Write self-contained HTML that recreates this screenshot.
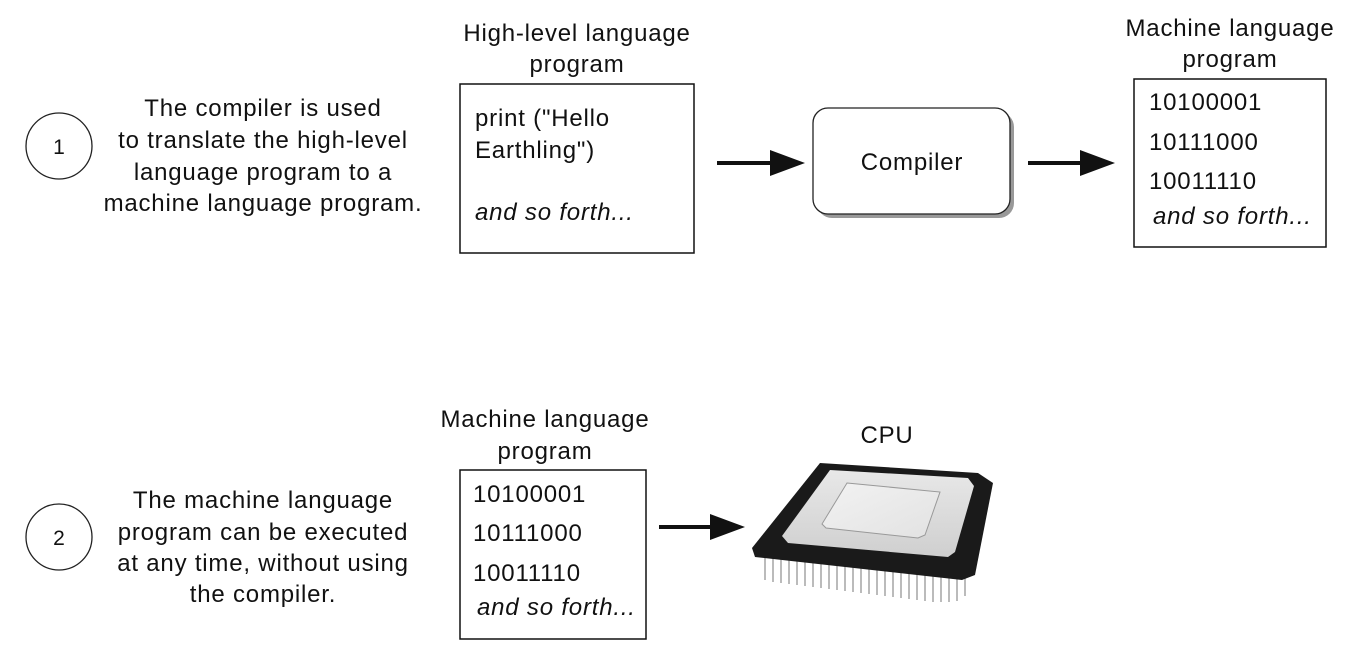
<!DOCTYPE html>
<html><head><meta charset="utf-8"><style>
html,body{margin:0;padding:0;background:#fff}
svg text{font-family:"Liberation Sans",sans-serif;font-size:24px;letter-spacing:0.8px;fill:#111}
</style></head><body>
<svg width="1350" height="656" viewBox="0 0 1350 656" xmlns="http://www.w3.org/2000/svg">
<defs>
<linearGradient id="g1" x1="0" y1="0" x2="0" y2="1"><stop offset="0" stop-color="#e8e8e8"/><stop offset="1" stop-color="#cfcfcf"/></linearGradient>
<linearGradient id="g2" x1="0" y1="0" x2="1" y2="1"><stop offset="0" stop-color="#f2f2f2"/><stop offset="1" stop-color="#e2e2e2"/></linearGradient>
</defs>
<g fill="none" stroke="#222" stroke-width="1.3">
<circle cx="59" cy="146" r="33"/><circle cx="59" cy="537" r="33"/>
</g>
<text x="59" y="154" text-anchor="middle" style="font-size:21px;letter-spacing:0">1</text>
<text x="59" y="545" text-anchor="middle" style="font-size:21px;letter-spacing:0">2</text>
<rect x="817" y="112" width="197" height="106" rx="15" fill="#999"/>
<rect x="813" y="108" width="197" height="106" rx="15" fill="#fff" stroke="#222" stroke-width="1.3"/>
<g text-anchor="middle">
<text x="263" y="116">The compiler is used</text>
<text x="263" y="148">to translate the high-level</text>
<text x="263" y="180">language program to a</text>
<text x="263" y="211">machine language program.</text>
<text x="263" y="508">The machine language</text>
<text x="263" y="540">program can be executed</text>
<text x="263" y="571">at any time, without using</text>
<text x="263" y="602">the compiler.</text>
<text x="577" y="41">High-level language</text>
<text x="577" y="72">program</text>
<text x="1230" y="36">Machine language</text>
<text x="1230" y="67">program</text>
<text x="545" y="427">Machine language</text>
<text x="545" y="459">program</text>
<text x="887" y="443">CPU</text>
<text x="912" y="170">Compiler</text>
</g>
<g fill="none" stroke="#111" stroke-width="1.5">
<rect x="460" y="84" width="234" height="169"/>
<rect x="1134" y="79" width="192" height="168"/>
<rect x="460" y="470" width="186" height="169"/>
</g>
<text x="475" y="126">print ("Hello</text>
<text x="475" y="158">Earthling")</text>
<text x="475" y="220" font-style="italic">and so forth...</text>
<text x="1149" y="110">10100001</text>
<text x="1149" y="150">10111000</text>
<text x="1149" y="189">10011110</text>
<text x="1153" y="224" font-style="italic">and so forth...</text>
<text x="473" y="502">10100001</text>
<text x="473" y="541">10111000</text>
<text x="473" y="581">10011110</text>
<text x="477" y="615" font-style="italic">and so forth...</text>
<g fill="#111" stroke="#111" stroke-width="4">
<line x1="717" y1="163" x2="772" y2="163"/><polygon points="770,150 805,163 770,176" stroke="none"/>
<line x1="1028" y1="163" x2="1082" y2="163"/><polygon points="1080,150 1115,163 1080,176" stroke="none"/>
<line x1="659" y1="527" x2="712" y2="527"/><polygon points="710,514 745,527 710,540" stroke="none"/>
</g>
<g stroke="#bbb" stroke-width="2">
<path d="M765 555v25M773 556v26M781 557v26M789 558v26M797 559v26M805 560v26M813 561v26M821 562v26M829 563v26M837 564v26M845 565v26M853 566v26M861 567v26M869 568v26M877 569v26M885 570v26M893 571v26M901 572v26M909 573v26M917 574v26M925 575v26M933 576v26M941 577v25M949 578v24M957 579v22M965 578v18"/>
</g>
<polygon points="820,463 978,473 993,483 975,575 962,580 755,557 752,548" fill="#1a1a1a"/>
<polygon points="830,470 968,478 974,486 955,552 948,557 788,543 782,536" fill="url(#g1)"/>
<polygon points="847,483 940,492 925,535 918,538 826,528 822,524" fill="url(#g2)" stroke="#999" stroke-width="1"/>
</svg>
</body></html>
